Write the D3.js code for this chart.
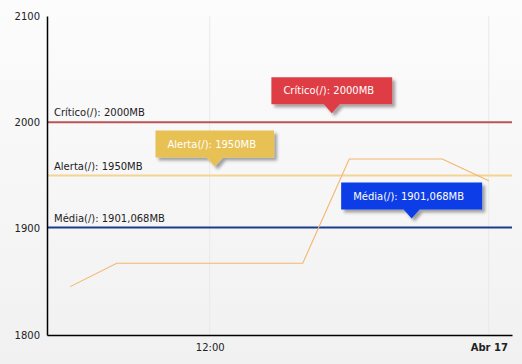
<!DOCTYPE html>
<html>
<head>
<meta charset="utf-8">
<script src="https://cdn.jsdelivr.net/npm/d3@7"></script>
<style>
  html, body { margin: 0; padding: 0; }
  body { width: 522px; height: 364px; overflow: hidden; }
  text { font-family: "DejaVu Sans", Verdana, sans-serif; font-size: 10px; }
</style>
</head>
<body>
<svg id="chart"></svg>
<script>
// usage series (MB)
var times = ["2017-04-16T06:00", "2017-04-16T08:00", "2017-04-16T16:00",
             "2017-04-16T18:00", "2017-04-16T22:00", "2017-04-17T00:00"];
var values = [1845.5, 1867.5, 1867.5, 1965.5, 1965.5, 1945];

// reference lines
var refNames = ["Crítico(/): 2000MB", "Alerta(/): 1950MB", "Média(/): 1901,068MB"];
var refValues = [2000, 1950, 1901.068];
var refColors = ["#bb5555", "#f3d493", "#1d3b8d"];

// callouts sitting on the reference lines
var calloutTimes = ["2017-04-16T17:15", "2017-04-16T12:13", "2017-04-16T20:41"];
var calloutColors = ["#df3d45", "#e8c155", "#0b3de6"];

var yTicks = [1800, 1900, 2000, 2100];
var xDomain = ["2017-04-16T05:00", "2017-04-17T01:00"];
var xTicks = ["2017-04-16T12:00", "2017-04-17T00:00"];
var xTickLabels = ["12:00", "Abr 17"];

var width = 522, height = 364;
var parse = d3.isoParse;

var x = d3.scaleTime()
    .domain(xDomain.map(parse))
    .range([47, 512]);

var y = d3.scaleLinear()
    .domain([1800, 2100])
    .range([335, 16]);

var svg = d3.select("#chart")
    .attr("width", width)
    .attr("height", height);

var defs = svg.append("defs");
var grad = defs.append("linearGradient")
    .attr("id", "bg").attr("x1", 0).attr("y1", 0).attr("x2", 0).attr("y2", 1);
grad.append("stop").attr("offset", "0%").attr("stop-color", "#fcfcfc");
grad.append("stop").attr("offset", "100%").attr("stop-color", "#f1f1f1");

defs.append("filter")
    .attr("id", "shadow").attr("x", "-20%").attr("y", "-30%")
    .attr("width", "150%").attr("height", "180%")
    .append("feDropShadow")
    .attr("dx", 3).attr("dy", 3).attr("stdDeviation", 1.5)
    .attr("flood-color", "#000").attr("flood-opacity", 0.35);

svg.append("rect")
    .attr("width", width).attr("height", height)
    .attr("fill", "url(#bg)");

// vertical grid lines
svg.selectAll(".grid")
    .data(xTicks)
    .enter().append("line")
    .attr("x1", function (d) { return x(parse(d)); })
    .attr("x2", function (d) { return x(parse(d)); })
    .attr("y1", y(2100))
    .attr("y2", y(1800))
    .attr("stroke", "#e9e9e9")
    .attr("stroke-width", 1);

// reference lines and their labels
svg.selectAll(".ref")
    .data(refValues)
    .enter().append("line")
    .attr("x1", 47).attr("x2", 512)
    .attr("y1", function (d) { return y(d); })
    .attr("y2", function (d) { return y(d); })
    .attr("stroke", function (d, i) { return refColors[i]; })
    .attr("stroke-width", 2);

svg.selectAll(".refLabel")
    .data(refValues)
    .enter().append("text")
    .attr("x", 54)
    .attr("y", function (d) { return y(d) - 6; })
    .attr("fill", "#222")
    .text(function (d, i) { return refNames[i]; });

// the series
var line = d3.line()
    .x(function (d) { return x(parse(d)); })
    .y(function (d, i) { return y(values[i]); });

svg.append("path")
    .datum(times)
    .attr("d", line)
    .attr("fill", "none")
    .attr("stroke", "#f4b56e")
    .attr("stroke-width", 1.1);

// axes
var yAxis = d3.axisLeft(y).tickValues(yTicks).tickSize(0).tickPadding(7)
    .tickFormat(d3.format("d"));
var gy = svg.append("g").attr("transform", "translate(47,0)").call(yAxis);
gy.select(".domain").attr("stroke", "#000").attr("stroke-width", 1.5);
gy.selectAll("text").attr("fill", "#222").style("font-size", "10px");

var xAxis = d3.axisBottom(x)
    .tickValues(xTicks.map(parse))
    .tickSize(0).tickPadding(9)
    .tickFormat(function (d, i) { return xTickLabels[i]; });
var gx = svg.append("g").attr("transform", "translate(0,335)").call(xAxis);
gx.select(".domain").attr("stroke", "#000").attr("stroke-width", 1.5);
gx.selectAll("text").attr("fill", "#222").style("font-size", "10px")
    .style("font-weight", function (d, i) { return i == 1 ? "bold" : "normal"; });

// callouts
calloutTimes.forEach(function (t, i) {
    var tx = x(parse(t));
    var ty = y(refValues[i]) - 9;
    var g = svg.append("g");
    var label = g.append("text")
        .attr("fill", "#fff")
        .text(refNames[i]);
    var w = label.node().getComputedTextLength() + 30;
    var h = 27, ph = 9, pw = 8;
    var left = tx - w / 2, top = ty - ph - h;
    var p = d3.path();
    p.moveTo(left, top);
    p.lineTo(left + w, top);
    p.lineTo(left + w, top + h);
    p.lineTo(tx + pw, top + h);
    p.lineTo(tx, ty);
    p.lineTo(tx - pw, top + h);
    p.lineTo(left, top + h);
    p.closePath();
    g.insert("path", "text")
        .attr("d", p.toString())
        .attr("fill", calloutColors[i])
        .attr("filter", "url(#shadow)");
    label.attr("x", left + 12).attr("y", top + 17);
});
</script>
</body>
</html>
